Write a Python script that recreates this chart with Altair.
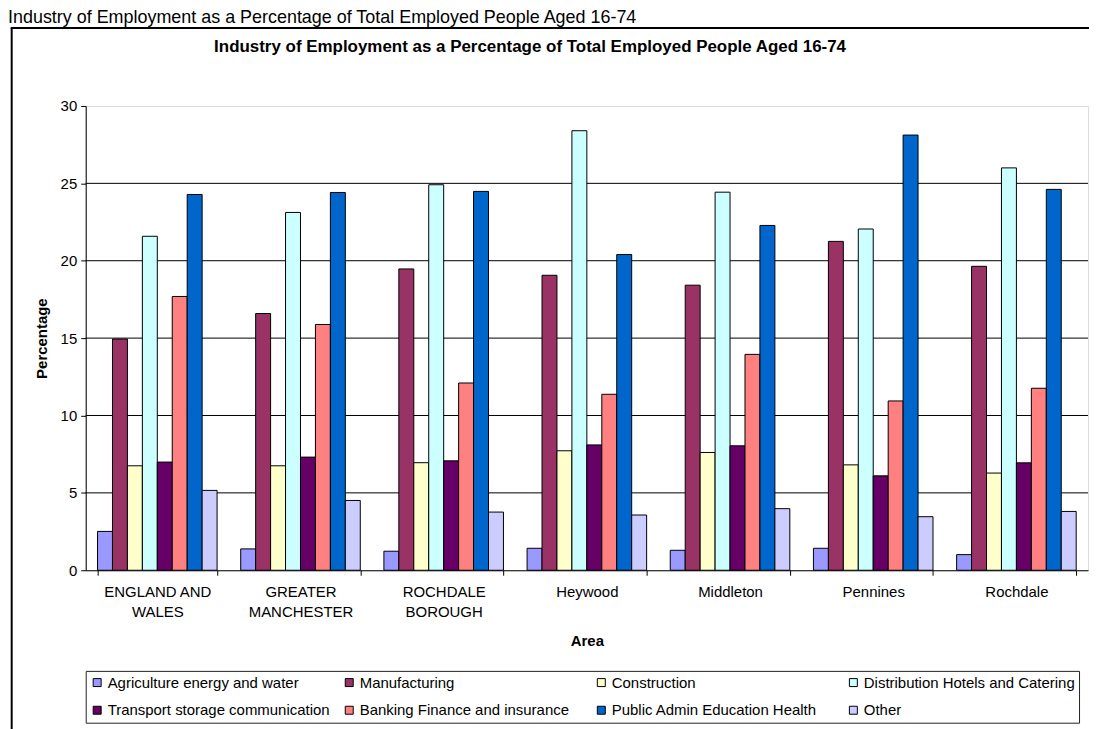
import altair as alt
import pandas as pd

FONT = "Liberation Sans"

areas = ["ENGLAND AND\nWALES", "GREATER\nMANCHESTER", "ROCHDALE\nBOROUGH",
         "Heywood", "Middleton", "Pennines", "Rochdale"]
industries = ["Agriculture energy and water", "Manufacturing", "Construction",
              "Distribution Hotels and Catering", "Transport storage communication",
              "Banking Finance and insurance", "Public Admin Education Health", "Other"]
colors = ["#9999FF", "#993366", "#FFFFCC", "#CCFFFF", "#660066", "#FF8080", "#0066CC", "#CCCCFF"]

agriculture = [2.51, 1.38, 1.23, 1.42, 1.29, 1.42, 1.01]
manufacturing = [14.94, 16.59, 19.47, 19.06, 18.42, 21.25, 19.64]
construction = [6.75, 6.75, 6.95, 7.72, 7.61, 6.81, 6.28]
distribution = [21.58, 23.12, 24.91, 28.40, 24.43, 22.05, 26.00]
transport = [6.99, 7.31, 7.07, 8.10, 8.04, 6.10, 6.94]
banking = [17.69, 15.88, 12.10, 11.37, 13.95, 10.94, 11.76]
public_admin = [24.28, 24.41, 24.48, 20.40, 22.28, 28.12, 24.61]
other = [5.16, 4.51, 3.76, 3.57, 3.98, 3.46, 3.80]

y_ticks = [0, 5, 10, 15, 20, 25, 30]
grid_values = [5, 10, 15, 20, 25]

page_title = "Industry of Employment as a Percentage of Total Employed People Aged 16-74"
chart_title = "Industry of Employment as a Percentage of Total Employed People Aged 16-74"

series = [agriculture, manufacturing, construction, distribution,
          transport, banking, public_admin, other]
rows = []
for ind, vals in zip(industries, series):
    for a, v in zip(areas, vals):
        rows.append({"Area": a, "Industry": ind, "Percentage": v})
df = pd.DataFrame(rows)

y_scale = alt.Scale(domain=[0, 30], nice=False, zero=True)

grid = alt.Chart(pd.DataFrame({"g": grid_values})).mark_rule(
    color="black", strokeWidth=1
).encode(
    y=alt.Y("g:Q", scale=y_scale, title="Percentage")
)

bars = alt.Chart(df).mark_bar(stroke="black", strokeWidth=1).encode(
    x=alt.X(
        "Area:N", sort=areas,
        scale=alt.Scale(paddingInner=0.165, paddingOuter=0.0825),
        axis=alt.Axis(
            title="Area", labelAngle=0,
            labelExpr="split(datum.label, '\\n')",
            labelFontSize=15, labelLineHeight=20, labelPadding=9,
            labelColor="black", labelFont=FONT,
            tickBand="extent", tickSize=5, tickColor="black",
            domainColor="black", grid=False,
            titleFontSize=15, titleFont=FONT, titleFontWeight="bold",
            titleColor="black", titleY=71, titleBaseline="middle",
        ),
    ),
    xOffset=alt.XOffset("Industry:N", sort=industries,
                        scale=alt.Scale(paddingInner=0, paddingOuter=0)),
    y=alt.Y(
        "Percentage:Q", scale=y_scale, title="Percentage",
        axis=alt.Axis(
            values=y_ticks, grid=False, tickSize=5, tickColor="black",
            domainColor="black", labelFontSize=15, labelColor="black",
            labelFont=FONT, labelPadding=4,
            titleFontSize=15, titleFont=FONT, titleFontWeight="bold",
            titleColor="black", titleX=-44, titleY=233, titleBaseline="middle",
        ),
    ),
    color=alt.Color(
        "Industry:N", sort=industries, title=None,
        scale=alt.Scale(domain=industries, range=colors),
        legend=alt.Legend(
            orient="none", legendX=0, legendY=567, direction="horizontal",
            columns=4, gridAlign="all", columnPadding=12, rowPadding=12,
            padding=4, strokeColor="#222222", fillColor="white",
            symbolType="square", symbolSize=64, symbolStrokeColor="black",
            symbolStrokeWidth=1, symbolOpacity=1,
            labelFontSize=15, labelFont=FONT, labelColor="black",
            labelOffset=3, labelLimit=400,
        ),
    ),
)

one = pd.DataFrame({"k": [0]})

frame_left = alt.Chart(one).mark_rule(color="black", strokeWidth=2).encode(
    x=alt.value(-74.3), y=alt.value(-78.3), y2=alt.value(700)
)
frame_top = alt.Chart(one).mark_rule(color="black", strokeWidth=2).encode(
    x=alt.value(-75.3), x2=alt.value(1100), y=alt.value(-78.3)
)

title_text = alt.Chart(one).mark_text(
    font=FONT, fontSize=17, fontWeight="bold", color="black",
    align="center", baseline="middle"
).encode(
    x=alt.value(446), y=alt.value(-59.3), text=alt.value(chart_title)
)

page_text = alt.Chart(one).mark_text(
    font=FONT, fontSize=18, color="black", align="left", baseline="alphabetic"
).encode(
    x=alt.value(-78), y=alt.value(-83), text=alt.value(page_title)
)

chart = alt.layer(grid, bars, frame_left, frame_top, title_text, page_text).properties(
    width=1006, height=466,
    padding={"left": 78, "top": 97, "right": 1, "bottom": 158},
    autosize=alt.AutoSizeParams(type="none"),
    background="white",
).configure_view(
    fill="#C0C0C0", stroke="#808080", strokeWidth=1
).configure(font=FONT)

chart.save("out.html", embed_options={"renderer": "svg", "actions": False})
